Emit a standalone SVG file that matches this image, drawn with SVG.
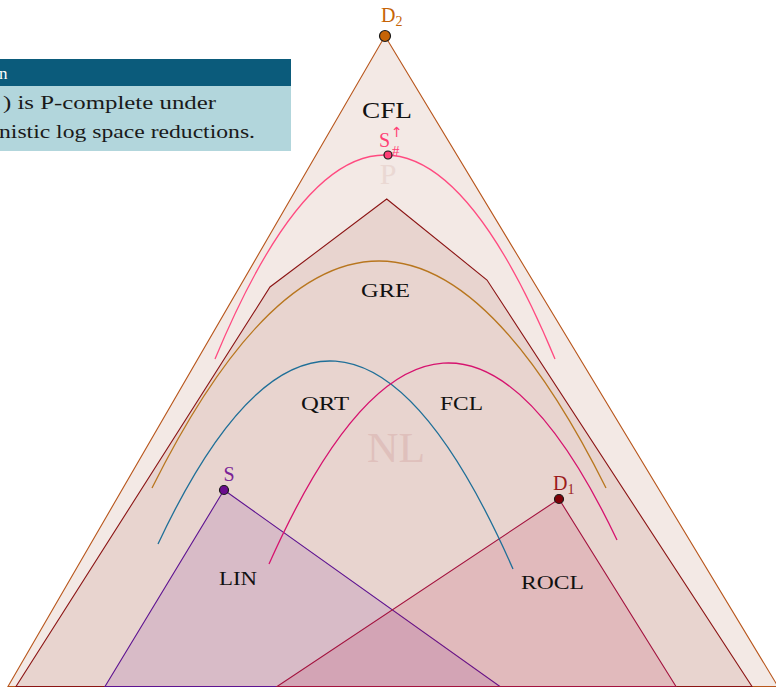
<svg xmlns="http://www.w3.org/2000/svg" width="776" height="687" viewBox="0 0 776 687">
  <style>
    .lbl { font-family: "Liberation Serif", "DejaVu Serif", serif; }
    .region { stroke-width: 1.1; stroke-linejoin: miter; }
    .arc { fill: none; stroke-width: 1.3; }
    .dot { stroke: #1a1a1a; stroke-width: 1.2; }
  </style>
  <rect width="776" height="687" fill="#ffffff"/>

  <!-- theorem box -->
  <g id="theorem">
    <rect x="-2" y="59" width="293" height="27" fill="#0b5b7b"/>
    <rect x="-2" y="86" width="293" height="65" fill="#b2d6dc"/>
    <text class="lbl" x="-1" y="79" font-size="17" fill="#ffffff">n</text>
    <text class="lbl" x="3" y="109" font-size="19" fill="#1a1a1a" textLength="213" lengthAdjust="spacingAndGlyphs">) is P-complete under</text>
    <text class="lbl" x="-1" y="138" font-size="19" fill="#1a1a1a" textLength="256" lengthAdjust="spacingAndGlyphs">nistic log space reductions.</text>
  </g>

  <!-- nested regions -->
  <g id="CFL">
    <polygon class="region" points="385,36 778,686.5 8,686.5" fill="#f3e9e5" stroke="#b8561c"/>
    <text class="lbl" x="362" y="118" font-size="24" fill="#111111" textLength="50" lengthAdjust="spacingAndGlyphs">CFL</text>
  </g>
  <g id="P">
    <text class="lbl" x="388" y="184" font-size="30" text-anchor="middle" fill="#ead8d3">P</text>
  </g>
  <g id="NL">
    <polygon class="region" points="386.7,199 487,280 752,686.5 16,686.5 270,287" fill="#e8d4cf" stroke="#8b1414"/>
    <text class="lbl" x="367" y="462" font-size="42" fill="#dfc0bc" textLength="58" lengthAdjust="spacingAndGlyphs">NL</text>
  </g>
  <g id="S-cone">
    <polygon class="region" points="224,490 500,686.5 105,686.5" fill="#6e1490" fill-opacity="0.13" stroke="#5e1391"/>
  </g>
  <g id="D1-cone">
    <polygon class="region" points="559,499 676,686.5 277,686.5" fill="#b0103c" fill-opacity="0.13" stroke="#a3123e"/>
  </g>

  <!-- class boundaries -->
  <g id="connectors">
    <path class="arc" d="M215,359 Q385,-49 555,359" stroke="#ff4a80"/>
    <path class="arc" d="M152,488 Q379,34 606,488" stroke="#b8761e"/>
    <path class="arc" d="M158,544 Q335.5,165.9 513,569" stroke="#1f6f98"/>
    <path class="arc" d="M269,564 Q443,174.4 617,540" stroke="#d6126e"/>
  </g>

  <g id="GRE"><text class="lbl" x="361" y="297" font-size="19" fill="#111111" textLength="49" lengthAdjust="spacingAndGlyphs">GRE</text></g>
  <g id="QRT"><text class="lbl" x="301" y="410" font-size="19" fill="#111111" textLength="48" lengthAdjust="spacingAndGlyphs">QRT</text></g>
  <g id="FCL"><text class="lbl" x="440" y="410" font-size="19" fill="#111111" textLength="43" lengthAdjust="spacingAndGlyphs">FCL</text></g>
  <g id="LIN"><text class="lbl" x="219" y="585" font-size="19" fill="#111111" textLength="38" lengthAdjust="spacingAndGlyphs">LIN</text></g>
  <g id="ROCL"><text class="lbl" x="521" y="589" font-size="19" fill="#111111" textLength="63" lengthAdjust="spacingAndGlyphs">ROCL</text></g>

  <!-- distinguished points -->
  <g id="D2">
    <circle class="dot" cx="385" cy="36" r="5.5" fill="#c66406"/>
    <text class="lbl" x="381" y="22" font-size="20" fill="#c66406">D<tspan font-size="14" dy="4">2</tspan></text>
  </g>
  <g id="Ssharp">
    <circle class="dot" cx="388" cy="155" r="4" fill="#ff3f76"/>
    <text class="lbl" x="379" y="147" font-size="20" fill="#ff3f76">S</text>
    <text x="391" y="137" font-size="14" font-family="DejaVu Sans, sans-serif" fill="#ff3f76">↑</text>
    <text class="lbl" x="392" y="156" font-size="15" fill="#ff3f76">#</text>
  </g>
  <g id="S">
    <circle class="dot" cx="224" cy="490" r="4.5" fill="#6a0b8e"/>
    <text class="lbl" x="229" y="481" font-size="20" text-anchor="middle" fill="#7a2396">S</text>
  </g>
  <g id="D1">
    <circle class="dot" cx="559" cy="499" r="4.5" fill="#7e0008"/>
    <text class="lbl" x="553" y="490" font-size="20" fill="#9b1b1b">D<tspan font-size="14" dy="4">1</tspan></text>
  </g>
</svg>
